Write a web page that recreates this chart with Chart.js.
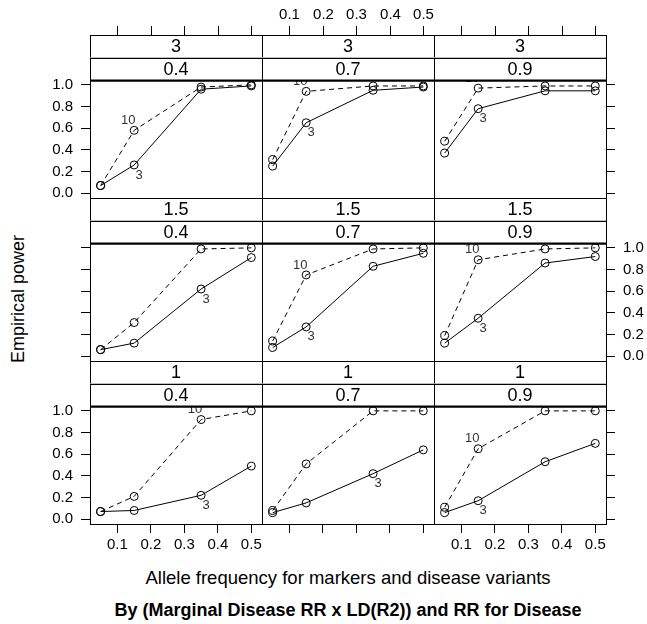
<!DOCTYPE html>
<html>
<head>
<meta charset="utf-8">
<script src="https://cdn.jsdelivr.net/npm/chart.js@4.4.0/dist/chart.umd.min.js"></script>
<style>
  body { margin: 0; background: #fff; width: 647px; height: 624px; overflow: hidden; position: relative;
         font-family: "Liberation Sans", Arial, sans-serif; }
  canvas { position: absolute; }
  .txt { position: absolute; white-space: nowrap; color: #000; }
</style>
</head>
<body>
<div class="txt" style="left:18px;top:299px;font-size:18px;transform:translate(-50%,-50%) rotate(-90deg);">Empirical power</div>
<div class="txt" style="left:348px;top:578px;font-size:18.5px;transform:translate(-50%,-50%);">Allele frequency for markers and disease variants</div>
<div class="txt" style="left:348px;top:610px;font-size:18px;font-weight:bold;transform:translate(-50%,-50%);">By (Marginal Disease RR x LD(R2)) and RR for Disease</div>
<script>
// datos
const xValues = [0.05, 0.15, 0.35, 0.5];
const rrLevels = ['3', '1.5', '1'];      // filas
const ldLevels = ['0.4', '0.7', '0.9'];  // columnas
const xTicks = [0.1, 0.2, 0.3, 0.4, 0.5];
const yTicks = [0.0, 0.2, 0.4, 0.6, 0.8, 1.0];

// serie "10" (discontinua), [fila][columna]
const power10 = [
  [[0.07, 0.58, 0.98, 1.00], [0.31, 0.94, 0.99, 0.99], [0.48, 0.97, 0.99, 0.99]],
  [[0.06, 0.31, 0.99, 1.00], [0.14, 0.75, 0.99, 1.00], [0.19, 0.89, 0.99, 1.00]],
  [[0.07, 0.21, 0.92, 1.00], [0.08, 0.51, 1.00, 1.00], [0.11, 0.65, 1.00, 1.00]]
];
// serie "3" (continua)
const power3 = [
  [[0.07, 0.26, 0.96, 0.99], [0.25, 0.65, 0.95, 0.98], [0.37, 0.78, 0.945, 0.945]],
  [[0.06, 0.12, 0.62, 0.91], [0.08, 0.27, 0.83, 0.95], [0.12, 0.35, 0.86, 0.92]],
  [[0.07, 0.08, 0.22, 0.49], [0.06, 0.15, 0.42, 0.64], [0.06, 0.17, 0.53, 0.70]]
];
// punto junto al que va la etiqueta de cada serie
const labelIdx = [[1, 1, 1], [2, 1, 1], [2, 2, 1]];

// geometria de los paneles
const panelLeft = [90, 262, 434];
const panelTop = [80, 243, 406];
const panelW = 172, panelH = 118, stripH = 22.5;
const FONT = '"Liberation Sans", Arial, sans-serif';

const latticePlugin = {
  id: 'lattice',
  afterDatasetsDraw(chart, args, opts) {
    const { ctx, chartArea: a } = chart;
    const i = labelIdx[opts.row][opts.col];
    const p10 = chart.getDatasetMeta(0).data[i];
    const p3 = chart.getDatasetMeta(1).data[i];
    ctx.save();
    ctx.beginPath();
    ctx.rect(a.left, a.top, a.width, a.height);
    ctx.clip();
    ctx.fillStyle = '#333';
    ctx.font = '13px ' + FONT;
    ctx.textAlign = 'center';
    ctx.textBaseline = 'middle';
    ctx.fillText('10', p10.x - 6, p10.y - 10);
    ctx.fillText('3', p3.x + 5, p3.y + 10);
    ctx.restore();
  },
  afterDraw(chart, args, opts) {
    const { ctx, chartArea: a, scales } = chart;
    const r = opts.row, c = opts.col;
    ctx.save();
    ctx.strokeStyle = '#000';
    ctx.lineWidth = 1;
    // tiras
    [rrLevels[r], ldLevels[c]].forEach((t, k) => {
      const y0 = a.top - stripH * (2 - k);
      ctx.fillStyle = '#fff';
      ctx.fillRect(a.left, y0, a.width, stripH);
      ctx.strokeRect(a.left + 0.5, Math.round(y0) + 0.5, a.width, stripH);
      ctx.fillStyle = '#000';
      ctx.font = '18px ' + FONT;
      ctx.textAlign = 'center';
      ctx.textBaseline = 'middle';
      ctx.fillText(t, a.left + a.width / 2, y0 + stripH / 2 + 1);
    });
    // marco del panel
    ctx.strokeRect(a.left + 0.5, a.top + 0.5, a.width, a.height);
    ctx.lineWidth = 2;
    ctx.beginPath();
    ctx.moveTo(a.left, a.top + 0.5);
    ctx.lineTo(a.right + 1, a.top + 0.5);
    ctx.stroke();
    // marcas superiores (fila de arriba)
    if (r === 0) {
      ctx.lineWidth = 1;
      const yb = a.top - 2 * stripH;
      ctx.font = '15px ' + FONT;
      ctx.fillStyle = '#000';
      ctx.textAlign = 'center';
      ctx.textBaseline = 'middle';
      xTicks.forEach(v => {
        const px = Math.round(scales.x.getPixelForValue(v)) + 0.5;
        ctx.beginPath();
        ctx.moveTo(px, yb);
        ctx.lineTo(px, yb - 9);
        ctx.stroke();
        if (c === 1) ctx.fillText(v.toFixed(1), px, yb - 20);
      });
    }
    ctx.restore();
  }
};

function crearPanel(r, c) {
  const cv = document.createElement('canvas');
  cv.width = panelW + 100;
  cv.height = panelH + 120;
  cv.style.left = (panelLeft[c] - 50) + 'px';
  cv.style.top = (panelTop[r] - 80) + 'px';
  document.body.appendChild(cv);

  const negro = 'rgba(0,0,0,1)', nada = 'rgba(0,0,0,0)';
  const yVisible = c !== 1;
  const yLabels = (c === 0 && r !== 1) || (c === 2 && r === 1);
  const xVisible = r === 2;
  const xLabels = r === 2 && c !== 1;

  new Chart(cv.getContext('2d'), {
    type: 'line',
    data: {
      datasets: [
        {
          label: '10',
          data: xValues.map((x, i) => ({ x: x, y: power10[r][c][i] })),
          borderColor: '#000', borderWidth: 1, borderDash: [5, 4],
          pointRadius: 4, pointBorderWidth: 1, pointBorderColor: '#000',
          pointBackgroundColor: nada, tension: 0
        },
        {
          label: '3',
          data: xValues.map((x, i) => ({ x: x, y: power3[r][c][i] })),
          borderColor: '#000', borderWidth: 1,
          pointRadius: 4, pointBorderWidth: 1, pointBorderColor: '#000',
          pointBackgroundColor: nada, tension: 0
        }
      ]
    },
    options: {
      responsive: false,
      animation: false,
      devicePixelRatio: 1,
      layout: { padding: { top: 80, bottom: 10, left: c === 2 ? 50 : 5, right: c === 2 ? 5 : 50 } },
      plugins: { legend: { display: false }, tooltip: { enabled: false }, lattice: { row: r, col: c } },
      scales: {
        x: {
          type: 'linear', position: 'bottom', min: 0.018, max: 0.532,
          afterBuildTicks: ax => { ax.ticks = xTicks.map(v => ({ value: v })); },
          afterFit: ax => { ax.height = 30; },
          border: { display: false },
          grid: { drawOnChartArea: false, drawTicks: true, tickLength: 9, color: xVisible ? negro : nada },
          ticks: { display: xLabels, padding: 3, color: '#000', autoSkip: false, maxRotation: 0,
                   font: { family: FONT, size: 15 }, callback: v => v.toFixed(1) }
        },
        y: {
          type: 'linear', position: c === 2 ? 'right' : 'left', min: -0.045, max: 1.045,
          afterBuildTicks: ax => { ax.ticks = yTicks.map(v => ({ value: v })); },
          afterFit: ax => { ax.width = 45; },
          border: { display: false },
          grid: { drawOnChartArea: false, drawTicks: true, tickLength: 9, color: yVisible ? negro : nada },
          ticks: { display: yLabels, padding: 8, color: '#000', autoSkip: false,
                   font: { family: FONT, size: 15 }, callback: v => v.toFixed(1) }
        }
      }
    },
    plugins: [latticePlugin]
  });
}

for (let r = 0; r < 3; r++) {
  for (let c = 0; c < 3; c++) crearPanel(r, c);
}
</script>
</body>
</html>
